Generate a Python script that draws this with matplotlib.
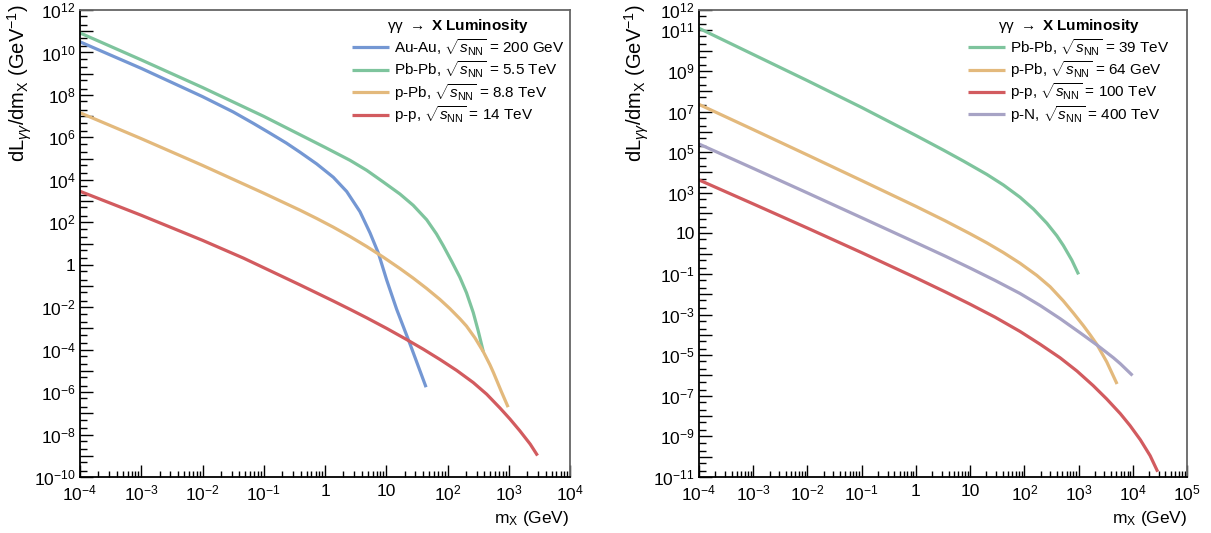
import numpy as np
import matplotlib
matplotlib.use("Agg")
import matplotlib.pyplot as plt
from matplotlib.ticker import FixedLocator, LogLocator, FuncFormatter, NullFormatter

plt.rcParams['font.family'] = ['Liberation Sans', 'DejaVu Sans']
plt.rcParams['mathtext.fontset'] = 'custom'
plt.rcParams['mathtext.rm'] = 'Liberation Sans'
plt.rcParams['mathtext.it'] = 'Liberation Sans:italic'
plt.rcParams['mathtext.bf'] = 'Liberation Sans:bold'
plt.rcParams['mathtext.sf'] = 'Liberation Sans'

# ---------------- data (log10 values) ----------------
# Left panel
auau_200_logm = [-4.0, -3.0, -2.0, -1.5, -1.17, -0.9, -0.63, -0.408, -0.136, 0.136, 0.354,
                 0.571, 0.735, 0.871, 1.007, 1.17, 1.39, 1.65]
auau_200_logL = [10.50, 9.25, 7.92, 7.20, 6.66, 6.20, 5.73, 5.30, 4.75, 4.12, 3.45,
                 2.50, 1.50, 0.55, -0.72, -2.10, -3.75, -5.77]

pbpb_55_logm = [-4.0, -3.0, -2.0, -1.0, 0.0, 0.408, 0.68, 0.95, 1.224, 1.44, 1.66,
                1.82, 1.93, 2.07, 2.20, 2.31, 2.42, 2.50, 2.585]
pbpb_55_logL = [10.92, 9.65, 8.35, 6.99, 5.53, 4.92, 4.45, 3.90, 3.33, 2.80, 2.12,
                1.45, 0.90, 0.15, -0.58, -1.32, -2.25, -3.10, -4.10]

ppb_88_logm = [-4.0, -3.0, -2.0, -1.0, -0.408, -0.136, 0.136, 0.408, 0.68, 0.95, 1.224,
               1.44, 1.66, 1.878, 2.04, 2.204, 2.31, 2.449, 2.585, 2.694, 2.75, 2.88, 2.99]
ppb_88_logL = [7.16, 5.94, 4.68, 3.37, 2.57, 2.18, 1.77, 1.33, 0.86, 0.36, -0.18,
               -0.63, -1.12, -1.64, -2.07, -2.55, -2.89, -3.45, -4.10, -4.72, -5.08, -5.98, -6.71]

pp_14_logm = [-4.0, -3.0, -2.0, -1.33, -0.408, -0.136, 0.136, 0.408, 0.68, 1.007, 1.33,
              1.605, 1.88, 2.15, 2.42, 2.64, 2.86, 3.02, 3.18, 3.35, 3.47]
pp_14_logL = [3.46, 2.33, 1.15, 0.31, -0.95, -1.33, -1.71, -2.10, -2.50, -3.00, -3.52,
              -3.98, -4.47, -4.98, -5.55, -6.10, -6.76, -7.27, -7.82, -8.45, -8.99]

# Right panel
pbpb_39_logm = [-4.0, -3.0, -2.0, -1.0, 0.0, 0.508, 0.877, 1.31, 1.615, 1.92, 2.17,
                2.415, 2.60, 2.72, 2.876, 3.0]
pbpb_39_logL = [11.10, 9.81, 8.52, 7.20, 5.82, 5.10, 4.56, 3.90, 3.38, 2.78, 2.19,
                1.50, 0.88, 0.40, -0.32, -1.02]

ppb_64_logm = [-4.0, -3.0, -2.0, -1.0, 0.0, 0.539, 1.0, 1.31, 1.61, 1.92, 2.23, 2.476,
               2.72, 2.906, 3.09, 3.214, 3.34, 3.52, 3.71]
ppb_64_logL = [7.35, 6.11, 4.86, 3.60, 2.33, 1.62, 0.98, 0.53, 0.06, -0.47, -1.07, -1.63,
               -2.33, -2.93, -3.55, -4.00, -4.48, -5.33, -6.42]

pp_100_logm = [-4.0, -3.0, -2.0, -1.0, 0.0, 0.539, 1.0, 1.461, 1.92, 2.29, 2.66, 2.97,
               3.27, 3.52, 3.77, 3.95, 4.14, 4.32, 4.46]
pp_100_logL = [3.63, 2.45, 1.26, 0.05, -1.19, -1.88, -2.49, -3.13, -3.83, -4.46, -5.13, -5.78,
               -6.50, -7.16, -7.88, -8.47, -9.17, -9.95, -10.74]

pn_400_logm = [-4.0, -3.0, -2.0, -1.0, 0.077, 0.539, 1.0, 1.461, 1.92, 2.29, 2.66, 3.03,
               3.34, 3.644, 3.77, 3.995]
pn_400_logL = [5.40, 4.20, 2.99, 1.77, 0.45, -0.12, -0.71, -1.32, -1.96, -2.55, -3.20, -3.90,
               -4.50, -5.13, -5.42, -6.00]

left_series = [
    (auau_200_logm, auau_200_logL, r"Au-Au, $\sqrt{s_{\rm NN}}$ = 200 GeV", '#7497d3'),
    (pbpb_55_logm, pbpb_55_logL, r"Pb-Pb, $\sqrt{s_{\rm NN}}$ = 5.5 TeV", '#7ec49d'),
    (ppb_88_logm, ppb_88_logL, r"p-Pb, $\sqrt{s_{\rm NN}}$ = 8.8 TeV", '#e3b97c'),
    (pp_14_logm, pp_14_logL, r"p-p, $\sqrt{s_{\rm NN}}$ = 14 TeV", '#d25b5f'),
]
right_series = [
    (pbpb_39_logm, pbpb_39_logL, r"Pb-Pb, $\sqrt{s_{\rm NN}}$ = 39 TeV", '#7ec49d'),
    (ppb_64_logm, ppb_64_logL, r"p-Pb, $\sqrt{s_{\rm NN}}$ = 64 GeV", '#e3b97c'),
    (pp_100_logm, pp_100_logL, r"p-p, $\sqrt{s_{\rm NN}}$ = 100 TeV", '#d25b5f'),
    (pn_400_logm, pn_400_logL, r"p-N, $\sqrt{s_{\rm NN}}$ = 400 TeV", '#a7a3c5'),
]

left_ylabels = [12, 10, 8, 6, 4, 2, 0, -2, -4, -6, -8, -10]
right_ylabels = [12, 11, 9, 7, 5, 3, 1, -1, -3, -5, -7, -9, -11]

W, H = 1211, 533
fig = plt.figure(figsize=(W / 100, H / 100), dpi=100)


def pow_label(e):
    if e == 0:
        return "1"
    if e == 1:
        return "10"
    return r"$10^{%d}$" % e


def make_axes(rect, xlim_exp, ylim_exp, ylab_exps, series, leg_anchor):
    ax = fig.add_axes(rect)
    ax.set_xscale('log')
    ax.set_yscale('log')
    ax.set_xlim(10.0 ** xlim_exp[0], 10.0 ** xlim_exp[1])
    ax.set_ylim(10.0 ** ylim_exp[0], 10.0 ** ylim_exp[1])
    handles = []
    for lm, lL, lab, col in series:
        h, = ax.plot(10.0 ** np.array(lm), 10.0 ** np.array(lL), color=col, lw=2.3,
                     solid_capstyle='butt', solid_joinstyle='round', label=lab)
        handles.append(h)

    # x ticks
    xmaj = [10.0 ** e for e in range(xlim_exp[0], xlim_exp[1] + 1)]
    ax.xaxis.set_major_locator(FixedLocator(xmaj))
    ax.xaxis.set_major_formatter(FuncFormatter(lambda v, p: pow_label(int(round(np.log10(v))))))
    ax.xaxis.set_minor_locator(LogLocator(base=10, subs=np.arange(2, 10), numticks=50))
    ax.xaxis.set_minor_formatter(NullFormatter())

    # y ticks
    ymaj = [10.0 ** e for e in range(ylim_exp[0], ylim_exp[1] + 1)]
    ax.yaxis.set_major_locator(FixedLocator(ymaj))
    ax.yaxis.set_major_formatter(FuncFormatter(
        lambda v, p: pow_label(int(round(np.log10(v)))) if int(round(np.log10(v))) in ylab_exps else ""))
    ax.yaxis.set_minor_locator(LogLocator(base=10, subs=(2.0, 5.0), numticks=60))
    ax.yaxis.set_minor_formatter(NullFormatter())

    ax.tick_params(axis='both', which='both', direction='in', top=False, right=False,
                   labelsize=12.5, width=1.0, color='black')
    ax.tick_params(axis='x', which='major', length=9, pad=5)
    ax.tick_params(axis='x', which='minor', length=4.5)
    ax.tick_params(axis='y', which='major', length=9, pad=3)
    ax.tick_params(axis='y', which='minor', length=5)

    for s in ['left', 'bottom']:
        ax.spines[s].set_color('black')
        ax.spines[s].set_linewidth(1.3)
    for s in ['top', 'right']:
        ax.spines[s].set_color('#666666')
        ax.spines[s].set_linewidth(1.3)

    ax.legend(handles=handles, loc='upper left',
              bbox_to_anchor=(leg_anchor[0] / W, 1 - leg_anchor[1] / H),
              bbox_transform=fig.transFigure,
              frameon=False, fontsize=11, title_fontsize=11,
              title=r"$\mathrm{\gamma\gamma}$ $\rightarrow$ $\mathbf{X\ Luminosity}$",
              handlelength=2.4, handletextpad=0.35, labelspacing=0.12,
              borderpad=0.0, borderaxespad=0.0)
    return ax


make_axes([80 / W, 1 - 477 / H, 490 / W, 467 / H], (-4, 4), (-10, 12),
          left_ylabels, left_series, (352, 17))
make_axes([699 / W, 1 - 477 / H, 488 / W, 467 / H], (-4, 5), (-11, 12),
          right_ylabels, right_series, (968, 17))

ylab = r"dL$_{\gamma\gamma}$/dm$_{\rm X}$ (GeV$^{-1}$)"
fig.text(20 / W, 1 - 4 / H, ylab, rotation=90, ha='center', va='top', fontsize=14.5)
fig.text(637 / W, 1 - 4 / H, ylab, rotation=90, ha='center', va='top', fontsize=14.5)
xlab = r"m$_{\rm X}$ (GeV)"
fig.text(569 / W, 1 - 518 / H, xlab, ha='right', va='center', fontsize=12.5)
fig.text(1187 / W, 1 - 518 / H, xlab, ha='right', va='center', fontsize=12.5)

fig.savefig("out.png", dpi=100)
